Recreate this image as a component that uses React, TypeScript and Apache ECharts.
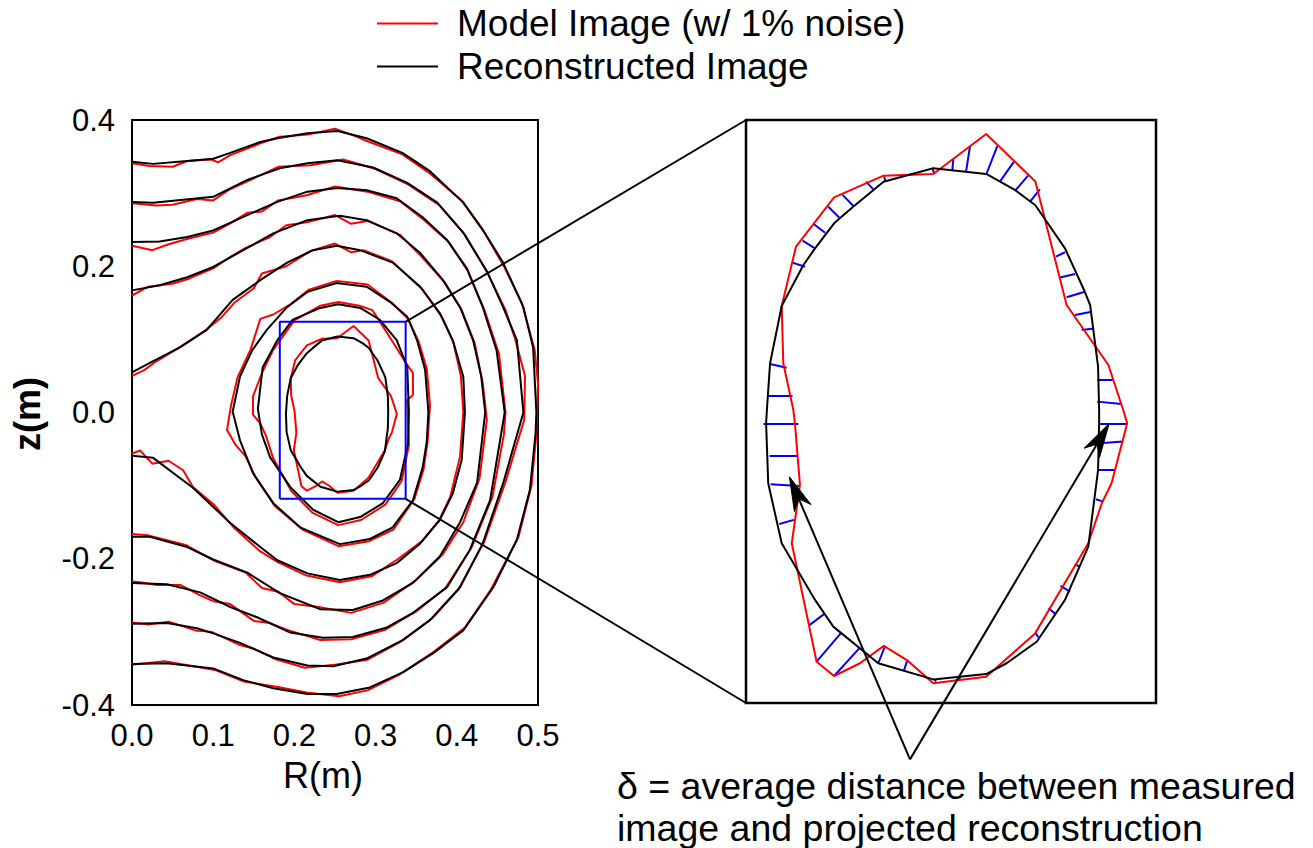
import React, { useEffect, useRef } from 'react';
import * as echarts from 'echarts';

const FONT = '"Liberation Sans", Arial, Helvetica, sans-serif';
const RED = '#ff0000';
const BLACK = '#000000';
const BLUE = '#0000ff';

const RED_NAME = 'Model Image (w/ 1% noise)';
const BLACK_NAME = 'Reconstructed Image';

// axis ranges / ticks
const xRange = [0, 0.5];
const xStep = 0.1;
const yRange = [-0.4, 0.4];
const yStep = 0.2;

// zoom window (blue box) in data units
const zoomBoxR = [0.182, 0.337];
const zoomBoxZ = [-0.118, 0.124];

// ---- contours (R, z) ----
const c1Black = [
  [0.1955, 0.0468], [0.2037, 0.0638], [0.2081, 0.0707], [0.2153, 0.0811], [0.2225, 0.088],
  [0.234, 0.0984], [0.2528, 0.104], [0.2728, 0.1016], [0.2838, 0.0949], [0.2914, 0.0886],
  [0.3026, 0.0707], [0.3101, 0.0527], [0.3121, 0.0472], [0.3151, 0.0216], [0.3155, 0.0036],
  [0.3155, -0.0019], [0.3151, -0.0213], [0.3114, -0.0531], [0.3026, -0.0752], [0.2919, -0.0926],
  [0.2805, -0.1015], [0.2728, -0.106], [0.2528, -0.1082], [0.232, -0.1015], [0.215, -0.0863],
  [0.2081, -0.0752], [0.1955, -0.0517], [0.1904, -0.0268], [0.1896, -0.0019], [0.1899, 0.0036],
  [0.1911, 0.023], [0.1955, 0.0468],
];
const c1Red = [
  [0.1955, 0.0468], [0.2009, 0.0714], [0.2153, 0.0919], [0.234, 0.1009], [0.2528, 0.1016],
  [0.2728, 0.1182], [0.2914, 0.0985], [0.3032, 0.0472], [0.319, 0.0223], [0.3246, 0.0036],
  [0.3261, -0.0019], [0.3202, -0.0268], [0.3165, -0.0351], [0.3114, -0.0517], [0.2913, -0.0891],
  [0.2728, -0.1071], [0.2528, -0.1098], [0.2428, -0.1002], [0.2341, -0.0943], [0.2251, -0.1015],
  [0.2153, -0.1068], [0.2087, -0.1009], [0.1993, -0.0517], [0.2024, -0.0275], [0.2005, -0.0019],
  [0.1999, 0.0036], [0.1961, 0.023], [0.1955, 0.0468],
];
const c2Black = [
  [0.254, 0.148], [0.281, 0.143], [0.305, 0.127], [0.326, 0.099], [0.339, 0.062], [0.341, 0.001],
  [0.34, -0.042], [0.33, -0.092], [0.309, -0.124], [0.281, -0.143], [0.254, -0.15], [0.223, -0.133],
  [0.195, -0.102], [0.17, -0.061], [0.16, -0.03], [0.155, 0.005], [0.161, 0.062], [0.179, 0.099],
  [0.198, 0.127], [0.232, 0.143], [0.254, 0.148],
];
const c2Red = [
  [0.254, 0.151], [0.28, 0.146], [0.296, 0.14], [0.314, 0.109], [0.336, 0.07], [0.346, 0.054],
  [0.346, 0.024], [0.339, 0.017], [0.341, -0.045], [0.332, -0.094], [0.312, -0.126], [0.282, -0.147],
  [0.254, -0.154], [0.222, -0.137], [0.196, -0.107], [0.174, -0.063], [0.165, -0.032], [0.158, -0.015],
  [0.149, -0.003], [0.149, 0.022], [0.16, 0.054], [0.174, 0.086], [0.2, 0.126], [0.232, 0.146],
  [0.254, 0.151],
];
const c3Black = [
  [0.252, 0.177], [0.289, 0.172], [0.318, 0.151], [0.339, 0.131], [0.351, 0.099], [0.361, 0.058],
  [0.365, 0.001], [0.363, -0.04], [0.358, -0.075], [0.346, -0.12], [0.321, -0.157], [0.293, -0.173],
  [0.256, -0.18], [0.207, -0.157], [0.174, -0.124], [0.149, -0.083], [0.133, -0.038], [0.124, 0.001],
  [0.133, 0.049], [0.148, 0.085], [0.166, 0.113], [0.191, 0.144], [0.216, 0.165], [0.252, 0.177],
];
const c3Red = [
  [0.252, 0.18], [0.29, 0.175], [0.32, 0.15], [0.34, 0.128], [0.353, 0.097], [0.363, 0.06],
  [0.367, 0.01], [0.364, -0.04], [0.359, -0.078], [0.348, -0.118], [0.322, -0.16], [0.292, -0.176],
  [0.255, -0.183], [0.21, -0.16], [0.176, -0.128], [0.152, -0.088], [0.14, -0.06], [0.128, -0.045],
  [0.117, -0.024], [0.122, 0.01], [0.13, 0.048], [0.146, 0.086], [0.158, 0.128], [0.174, 0.134],
  [0.195, 0.148], [0.218, 0.168], [0.252, 0.18],
];
const c4Black = [
  [0, 0.055], [0.022, 0.068], [0.059, 0.089], [0.092, 0.113], [0.124, 0.154], [0.158, 0.181],
  [0.191, 0.205], [0.223, 0.222], [0.252, 0.228], [0.281, 0.222], [0.321, 0.205], [0.355, 0.172],
  [0.379, 0.136], [0.395, 0.099], [0.408, 0.049], [0.41, 0.0], [0.406, -0.065], [0.395, -0.111],
  [0.379, -0.147], [0.355, -0.179], [0.326, -0.206], [0.293, -0.222], [0.256, -0.229], [0.216, -0.22],
  [0.179, -0.202], [0.158, -0.184], [0.121, -0.151], [0.075, -0.103], [0.026, -0.062], [0, -0.059],
];
const c4Red = [
  [0, 0.05], [0.015, 0.058], [0.03, 0.07], [0.06, 0.09], [0.09, 0.112], [0.11, 0.13], [0.126, 0.15],
  [0.15, 0.17], [0.16, 0.19], [0.19, 0.2], [0.22, 0.221], [0.25, 0.231], [0.27, 0.219], [0.285, 0.222],
  [0.32, 0.207], [0.358, 0.168], [0.382, 0.13], [0.396, 0.095], [0.405, 0.05], [0.408, 0.0],
  [0.404, -0.06], [0.392, -0.115], [0.378, -0.148], [0.358, -0.175], [0.328, -0.2], [0.295, -0.224],
  [0.256, -0.232], [0.215, -0.223], [0.18, -0.205], [0.158, -0.19], [0.126, -0.158], [0.1, -0.125],
  [0.075, -0.102], [0.063, -0.079], [0.045, -0.066], [0.025, -0.07], [0.01, -0.052], [0, -0.056],
];
const c5Black = [
  [0, 0.167], [0.034, 0.174], [0.068, 0.185], [0.1, 0.199], [0.137, 0.222], [0.174, 0.245],
  [0.216, 0.263], [0.256, 0.269], [0.289, 0.263], [0.326, 0.245], [0.355, 0.218], [0.383, 0.181],
  [0.404, 0.144], [0.42, 0.099], [0.43, 0.05], [0.435, 0.0], [0.425, -0.096], [0.404, -0.15],
  [0.379, -0.197], [0.346, -0.233], [0.309, -0.257], [0.272, -0.27], [0.232, -0.269], [0.182, -0.247],
  [0.142, -0.219], [0.1, -0.201], [0.068, -0.184], [0.022, -0.17], [0, -0.17],
];
const c5Red = [
  [0, 0.16], [0.02, 0.172], [0.05, 0.176], [0.07, 0.183], [0.1, 0.197], [0.12, 0.212], [0.14, 0.225],
  [0.17, 0.24], [0.19, 0.256], [0.215, 0.26], [0.25, 0.27], [0.27, 0.258], [0.29, 0.262], [0.33, 0.243],
  [0.356, 0.214], [0.385, 0.178], [0.406, 0.14], [0.422, 0.095], [0.432, 0.04], [0.437, -0.01],
  [0.428, -0.09], [0.408, -0.15], [0.382, -0.195], [0.349, -0.23], [0.31, -0.26], [0.27, -0.274],
  [0.23, -0.266], [0.2, -0.262], [0.18, -0.245], [0.16, -0.24], [0.14, -0.219], [0.1, -0.202],
  [0.066, -0.181], [0.02, -0.168], [0, -0.166],
];
const c6Black = [
  [0, 0.233], [0.034, 0.234], [0.068, 0.24], [0.1, 0.249], [0.142, 0.27], [0.179, 0.288],
  [0.216, 0.302], [0.253, 0.307], [0.289, 0.304], [0.326, 0.293], [0.358, 0.267], [0.388, 0.236],
  [0.413, 0.195], [0.432, 0.144], [0.449, 0.085], [0.459, 0.0], [0.441, -0.12], [0.416, -0.188],
  [0.388, -0.239], [0.346, -0.274], [0.314, -0.294], [0.272, -0.307], [0.235, -0.308], [0.195, -0.301],
  [0.154, -0.28], [0.121, -0.266], [0.084, -0.246], [0.043, -0.235], [0, -0.233],
];
const c6Red = [
  [0, 0.228], [0.025, 0.222], [0.045, 0.23], [0.07, 0.238], [0.1, 0.246], [0.12, 0.258], [0.142, 0.273],
  [0.16, 0.275], [0.18, 0.29], [0.215, 0.297], [0.25, 0.309], [0.29, 0.302], [0.33, 0.289], [0.36, 0.263],
  [0.39, 0.233], [0.412, 0.198], [0.434, 0.14], [0.452, 0.08], [0.46, 0.0], [0.458, -0.03],
  [0.444, -0.115], [0.418, -0.185], [0.386, -0.24], [0.35, -0.272], [0.312, -0.297], [0.27, -0.31],
  [0.232, -0.311], [0.193, -0.298], [0.17, -0.288], [0.15, -0.285], [0.121, -0.262], [0.1, -0.258],
  [0.084, -0.25], [0.06, -0.236], [0.03, -0.236], [0.01, -0.232], [0, -0.231],
];
const c7Black = [
  [0, 0.288], [0.026, 0.287], [0.063, 0.291], [0.1, 0.295], [0.142, 0.318], [0.182, 0.334],
  [0.216, 0.341], [0.253, 0.345], [0.297, 0.335], [0.339, 0.314], [0.376, 0.287], [0.408, 0.246],
  [0.438, 0.191], [0.457, 0.144], [0.474, 0.099], [0.482, 0.0], [0.457, -0.097], [0.432, -0.179],
  [0.404, -0.239], [0.367, -0.284], [0.334, -0.311], [0.29, -0.336], [0.248, -0.347], [0.216, -0.346],
  [0.174, -0.335], [0.133, -0.315], [0.1, -0.302], [0.08, -0.295], [0.043, -0.288], [0, -0.289],
];
const c7Red = [
  [0, 0.286], [0.03, 0.283], [0.05, 0.284], [0.08, 0.292], [0.1, 0.29], [0.12, 0.305], [0.142, 0.316],
  [0.18, 0.336], [0.22, 0.338], [0.26, 0.346], [0.3, 0.333], [0.34, 0.312], [0.378, 0.284], [0.41, 0.243],
  [0.436, 0.195], [0.46, 0.14], [0.472, 0.1], [0.484, 0.05], [0.483, -0.01], [0.46, -0.095],
  [0.434, -0.176], [0.402, -0.242], [0.37, -0.281], [0.33, -0.314], [0.29, -0.338], [0.25, -0.345],
  [0.213, -0.349], [0.176, -0.337], [0.15, -0.323], [0.133, -0.318], [0.098, -0.3], [0.078, -0.298],
  [0.045, -0.286], [0.02, -0.29], [0, -0.287],
];
const c8Black = [
  [0, 0.343], [0.026, 0.34], [0.068, 0.344], [0.1, 0.347], [0.121, 0.355], [0.158, 0.37],
  [0.179, 0.375], [0.216, 0.382], [0.253, 0.385], [0.289, 0.375], [0.333, 0.355], [0.367, 0.33],
  [0.408, 0.287], [0.432, 0.25], [0.457, 0.205], [0.482, 0.144], [0.494, 0.089], [0.498, 0.0],
  [0.497, -0.028], [0.49, -0.106], [0.474, -0.174], [0.445, -0.239], [0.408, -0.298], [0.371, -0.329],
  [0.334, -0.355], [0.293, -0.376], [0.252, -0.385], [0.216, -0.385], [0.174, -0.377], [0.137, -0.366],
  [0.1, -0.35], [0.043, -0.343], [0, -0.344],
];
const c8Red = [
  [0, 0.341], [0.022, 0.337], [0.05, 0.336], [0.068, 0.344], [0.098, 0.346], [0.106, 0.342],
  [0.121, 0.352], [0.158, 0.368], [0.182, 0.377], [0.216, 0.38], [0.25, 0.388], [0.275, 0.378],
  [0.29, 0.371], [0.333, 0.353], [0.367, 0.327], [0.406, 0.29], [0.434, 0.246], [0.458, 0.2],
  [0.48, 0.15], [0.496, 0.085], [0.5, 0.04], [0.498, -0.03], [0.492, -0.1], [0.476, -0.17],
  [0.442, -0.242], [0.41, -0.294], [0.372, -0.327], [0.33, -0.358], [0.29, -0.38], [0.255, -0.388],
  [0.215, -0.383], [0.178, -0.375], [0.138, -0.368], [0.102, -0.352], [0.06, -0.344], [0.04, -0.34],
  [0, -0.345],
];

// projection segments (red point -> reconstructed contour), R1, z1, R2, z2
const blueSegments = [
  [0.1993, 0.0649, 0.2043, 0.0631], [0.2034, 0.0739, 0.2081, 0.0707], [0.2077, 0.0807, 0.2119, 0.0772],
  [0.2131, 0.088, 0.2175, 0.0832], [0.2185, 0.0929, 0.2226, 0.0883], [0.2274, 0.0984, 0.2301, 0.0952],
  [0.2342, 0.1005, 0.2348, 0.0984], [0.2526, 0.1035, 0.2531, 0.1019], [0.2604, 0.1081, 0.26, 0.1032],
  [0.2667, 0.1132, 0.2652, 0.1026], [0.277, 0.1132, 0.273, 0.1019], [0.2833, 0.1067, 0.278, 0.0984],
  [0.2887, 0.101, 0.2838, 0.0947], [0.2931, 0.0952, 0.2894, 0.0901], [0.2992, 0.0673, 0.3026, 0.0691],
  [0.3007, 0.0586, 0.3064, 0.0601], [0.3032, 0.0504, 0.3101, 0.0527], [0.3064, 0.0431, 0.3127, 0.0444],
  [0.3089, 0.0368, 0.3135, 0.0375], [0.1911, 0.0227, 0.1974, 0.0212], [0.1904, 0.0094, 0.1996, 0.0094],
  [0.3148, 0.0161, 0.3211, 0.0161], [0.3148, 0.0071, 0.324, 0.0061], [0.1886, -0.0022, 0.2018, -0.0022],
  [0.1909, -0.0153, 0.2014, -0.0153], [0.1913, -0.0272, 0.2022, -0.0279], [0.1946, -0.0437, 0.2001, -0.042],
  [0.2056, -0.086, 0.2115, -0.0811], [0.2087, -0.1008, 0.2178, -0.0891], [0.2153, -0.1068, 0.2248, -0.0953],
  [0.232, -0.1015, 0.2345, -0.0946], [0.2417, -0.1046, 0.243, -0.1001], [0.2534, -0.1091, 0.2538, -0.1082],
  [0.2626, -0.1082, 0.2629, -0.1071], [0.2916, -0.0891, 0.2925, -0.0907], [0.2963, -0.0787, 0.2988, -0.0808],
  [0.3009, -0.0694, 0.3045, -0.0718], [0.3064, -0.0604, 0.308, -0.0614], [0.3143, -0.0334, 0.3171, -0.0344],
  [0.3152, -0.0213, 0.3215, -0.0213], [0.3158, -0.0102, 0.3246, -0.0095], [0.3158, -0.0022, 0.3261, -0.0022],
];

// annotation (in zoom-panel data units)
const arrowApex = [0.244, -0.1414];
const arrowTips = [[0.1984, -0.0241], [0.3193, -0.002]];
const noteLines = ['δ = average distance between measured', 'image and projected reconstruction'];

const redContours = [c1Red, c2Red, c3Red, c4Red, c5Red, c6Red, c7Red, c8Red];
const blackContours = [c1Black, c2Black, c3Black, c4Black, c5Black, c6Black, c7Black, c8Black];

export default function App() {
  const ref = useRef<HTMLDivElement>(null);
  useEffect(() => {
    const el = ref.current;
    if (!el) return;
    const chart = echarts.init(el, null, { renderer: 'svg' });

    const series: any[] = [];
    redContours.forEach((d) =>
      series.push({
        type: 'line', name: RED_NAME, xAxisIndex: 0, yAxisIndex: 0, data: d,
        symbol: 'none', showSymbol: false, silent: true, z: 2,
        lineStyle: { color: RED, width: 2 }, itemStyle: { color: RED },
      })
    );
    blackContours.forEach((d) =>
      series.push({
        type: 'line', name: BLACK_NAME, xAxisIndex: 0, yAxisIndex: 0, data: d,
        symbol: 'none', showSymbol: false, silent: true, z: 3,
        lineStyle: { color: BLACK, width: 2 }, itemStyle: { color: BLACK },
      })
    );
    const boxData = [
      [zoomBoxR[0], zoomBoxZ[0]], [zoomBoxR[1], zoomBoxZ[0]], [zoomBoxR[1], zoomBoxZ[1]],
      [zoomBoxR[0], zoomBoxZ[1]], [zoomBoxR[0], zoomBoxZ[0]],
    ];
    series.push({
      type: 'line', name: 'zoom', xAxisIndex: 0, yAxisIndex: 0, data: boxData,
      symbol: 'none', silent: true, z: 4, lineStyle: { color: BLUE, width: 2 },
    });
    // zoom panel
    series.push({
      type: 'lines', coordinateSystem: 'cartesian2d', xAxisIndex: 1, yAxisIndex: 1, silent: true, z: 2,
      data: blueSegments.map((s) => ({ coords: [[s[0], s[1]], [s[2], s[3]]] })),
      lineStyle: { color: BLUE, width: 2, opacity: 1 },
    });
    series.push({
      type: 'line', name: RED_NAME, xAxisIndex: 1, yAxisIndex: 1, data: c1Red,
      symbol: 'none', silent: true, z: 3, lineStyle: { color: RED, width: 2 }, itemStyle: { color: RED },
    });
    series.push({
      type: 'line', name: BLACK_NAME, xAxisIndex: 1, yAxisIndex: 1, data: c1Black,
      symbol: 'none', silent: true, z: 4, lineStyle: { color: BLACK, width: 2 }, itemStyle: { color: BLACK },
    });

    const labelStyle = { color: '#000', fontSize: 31, fontFamily: FONT };
    chart.setOption({
      animation: false,
      backgroundColor: '#ffffff',
      legend: {
        data: [
          { name: RED_NAME, icon: 'rect', itemStyle: { color: RED } },
          { name: BLACK_NAME, icon: 'rect', itemStyle: { color: BLACK } },
        ],
        orient: 'vertical', left: 377, top: 5, padding: 0,
        itemWidth: 61, itemHeight: 2, itemGap: 6, selectedMode: false,
        textStyle: { color: '#000', fontSize: 37, fontFamily: FONT, padding: [0, 0, 0, 14] },
      },
      grid: [
        { left: 132, top: 120, width: 406, height: 585, show: true, borderColor: '#000', borderWidth: 2, containLabel: false },
        { left: 746, top: 120, width: 410, height: 583, show: true, borderColor: '#000', borderWidth: 2.5, containLabel: false },
      ],
      xAxis: [
        {
          type: 'value', gridIndex: 0, min: xRange[0], max: xRange[1], interval: xStep,
          axisLine: { show: false }, axisTick: { show: false }, splitLine: { show: false },
          axisLabel: { ...labelStyle, margin: 15, showMinLabel: true, showMaxLabel: true, formatter: (v: number) => v.toFixed(1) },
        },
        { type: 'value', gridIndex: 1, min: zoomBoxR[0], max: zoomBoxR[1], show: false },
      ],
      yAxis: [
        {
          type: 'value', gridIndex: 0, min: yRange[0], max: yRange[1], interval: yStep,
          axisLine: { show: false }, axisTick: { show: false }, splitLine: { show: false },
          axisLabel: { ...labelStyle, margin: 17, showMinLabel: true, showMaxLabel: true, formatter: (v: number) => (Math.abs(v) < 1e-9 ? '0.0' : v.toFixed(1)) },
        },
        { type: 'value', gridIndex: 1, min: zoomBoxZ[0], max: zoomBoxZ[1], show: false },
      ],
      series,
    });

    const p0 = (pt: number[]) => chart.convertToPixel({ gridIndex: 0 }, pt) as number[];
    const p1 = (pt: number[]) => chart.convertToPixel({ gridIndex: 1 }, pt) as number[];

    const graphics: any[] = [];
    const lineEl = (a: number[], b: number[], w = 2) => ({
      type: 'line', silent: true, z: 10,
      shape: { x1: a[0], y1: a[1], x2: b[0], y2: b[1] },
      style: { stroke: '#000', lineWidth: w },
    });
    // connector lines from zoom box to zoom panel
    graphics.push(lineEl(p0([zoomBoxR[1], zoomBoxZ[1]]), p1([zoomBoxR[0], zoomBoxZ[1]])));
    graphics.push(lineEl(p0([zoomBoxR[1], zoomBoxZ[0]]), p1([zoomBoxR[0], zoomBoxZ[0]])));

    // arrows
    const apex = p1(arrowApex);
    arrowTips.forEach((t) => {
      const tip = p1(t);
      const dx = tip[0] - apex[0];
      const dy = tip[1] - apex[1];
      const L = Math.sqrt(dx * dx + dy * dy);
      const ux = dx / L, uy = dy / L;
      const px = -uy, py = ux;
      const len = 34, hw = 9, notch = 24;
      const base = [tip[0] - ux * len, tip[1] - uy * len];
      const nPt = [tip[0] - ux * notch, tip[1] - uy * notch];
      graphics.push(lineEl(apex, nPt));
      graphics.push({
        type: 'polygon', silent: true, z: 11,
        shape: {
          points: [
            tip,
            [base[0] + px * hw, base[1] + py * hw],
            nPt,
            [base[0] - px * hw, base[1] - py * hw],
          ],
        },
        style: { fill: '#000', stroke: '#000', lineWidth: 1 },
      });
    });

    const textEl = (x: number, y: number, text: string, opts: any = {}) => ({
      type: 'text', x, y, silent: true, z: 12, rotation: opts.rotation || 0,
      style: {
        text, fill: '#000', fontSize: opts.fontSize || 36, fontFamily: FONT,
        fontWeight: opts.fontWeight || 'normal',
        align: opts.align || 'center', verticalAlign: 'middle',
      },
    });
    graphics.push(textEl(323, 775, 'R(m)', { fontSize: 36 }));
    graphics.push(textEl(27, 414, 'z(m)', { fontSize: 36, fontWeight: 'bold', rotation: Math.PI / 2 }));
    graphics.push(textEl(617, 786, noteLines[0], { fontSize: 37.5, align: 'left' }));
    graphics.push(textEl(617, 828, noteLines[1], { fontSize: 37.5, align: 'left' }));

    chart.setOption({ graphic: graphics });

    return () => chart.dispose();
  }, []);

  return (
    <div
      ref={ref}
      style={{ position: 'fixed', left: 0, top: 0, width: 1313, height: 848, background: '#fff' }}
    />
  );
}
